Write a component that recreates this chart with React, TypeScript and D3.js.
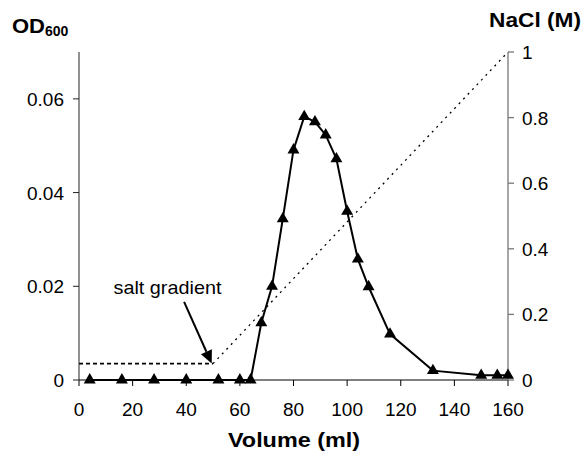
import React from 'react';
import * as d3 from 'd3';

// elution profile (OD600) vs volume
const volume = [4, 16, 28, 40, 52, 60, 64, 68, 72, 76, 80, 84, 88, 92, 96, 100, 104, 108, 116, 132, 150, 156, 160];
const od600 = [0, 0, 0, 0, 0, 0, 0, 0.0122, 0.0200, 0.0344, 0.0491, 0.0562, 0.0551, 0.0523, 0.0472, 0.0360, 0.0258, 0.0199, 0.0098, 0.0020, 0.0010, 0.0010, 0.0010];

// salt gradient (NaCl, M)
const saltVolume = [0, 50, 160];
const saltNaCl = [0.05, 0.05, 1];

const xTicks = [0, 20, 40, 60, 80, 100, 120, 140, 160];
const leftTicks = [0, 0.02, 0.04, 0.06];
const rightTicks = [0, 0.2, 0.4, 0.6, 0.8, 1];

const W = 585;
const H = 452;
const font = '"Liberation Sans", Arial, sans-serif';

export default function App() {
  const x = d3.scaleLinear().domain([0, 160]).range([79, 508]);
  const yL = d3.scaleLinear().domain([0, 0.07]).range([380, 52]);
  const yR = d3.scaleLinear().domain([0, 1]).range([380, 52]);

  const line = d3.line<number>().x((_, i) => x(volume[i])).y(d => yL(d));
  const tri = d3.symbol().type(d3.symbolTriangle).size(62)();

  const flat = `M${x(saltVolume[0])},${yR(saltNaCl[0])}L${x(saltVolume[1])},${yR(saltNaCl[1])}`;
  const slope = `M${x(saltVolume[1])},${yR(saltNaCl[1])}L${x(saltVolume[2])},${yR(saltNaCl[2])}`;

  // arrow annotation, in data coordinates
  const ax0 = x(39.2), ay0 = yR(0.238);
  const ax1 = x(49.5), ay1 = yR(0.05);
  const ang = Math.atan2(ay1 - ay0, ax1 - ax0);
  const hl = 13, hw = 6;
  const bx = ax1 - hl * Math.cos(ang), by = ay1 - hl * Math.sin(ang);
  const head = `M${ax1},${ay1}L${bx + hw * Math.sin(ang)},${by - hw * Math.cos(ang)}L${bx - hw * Math.sin(ang)},${by + hw * Math.cos(ang)}Z`;

  return (
    <div style={{ position: 'absolute', left: 0, top: 0 }}>
      <svg width={W} height={H} style={{ display: 'block', background: '#fff' }} fontFamily={font}>
        {/* salt gradient */}
        <path d={flat} stroke="#000" strokeWidth={1.6} strokeDasharray="4,3" fill="none" />
        <path d={slope} stroke="#000" strokeWidth={1.3} strokeDasharray="2,4.5" fill="none" />

        {/* axes */}
        <line x1={x(0)} x2={x(160)} y1={yL(0)} y2={yL(0)} stroke="#000" strokeWidth={1} />
        {xTicks.map(t => (
          <g key={t}>
            <line x1={x(t)} x2={x(t)} y1={yL(0)} y2={yL(0) + 6} stroke="#000" />
            <text x={x(t)} y={416} fontSize={19} textAnchor="middle">{t}</text>
          </g>
        ))}
        <line x1={x(0)} x2={x(0)} y1={yL(0.07)} y2={yL(0)} stroke="#222" strokeWidth={1} />
        {leftTicks.map(t => (
          <g key={t}>
            <line x1={x(0) - 6} x2={x(0)} y1={yL(t)} y2={yL(t)} stroke="#222" />
            <text x={64} y={yL(t) + 7} fontSize={19} textAnchor="end">{t === 0 ? '0' : t.toFixed(2)}</text>
          </g>
        ))}
        <line x1={x(160)} x2={x(160)} y1={yR(1)} y2={yR(0)} stroke="#777" strokeWidth={1.3} />
        {rightTicks.map(t => (
          <g key={t}>
            <line x1={x(160)} x2={x(160) + 6} y1={yR(t)} y2={yR(t)} stroke="#777" strokeWidth={1.3} />
            <text x={522} y={yR(t) + 7} fontSize={19}>{t === 0 || t === 1 ? String(t) : t.toFixed(1)}</text>
          </g>
        ))}

        {/* OD600 series */}
        <path d={line(od600) || ''} stroke="#000" strokeWidth={2} fill="none" />
        {od600.map((v, i) => (
          <path key={i} d={tri || ''} transform={`translate(${x(volume[i])},${yL(v)})`} fill="#000" />
        ))}

        {/* annotation */}
        <line x1={ax0} y1={ay0} x2={bx} y2={by} stroke="#000" strokeWidth={2} />
        <path d={head} fill="#000" />
        <text x={x(33)} y={yR(0.262)} fontSize={19} textAnchor="middle" textLength={108} lengthAdjust="spacingAndGlyphs">salt gradient</text>

        {/* axis titles */}
        <text x={12} y={33} fontSize={20} fontWeight="bold">
          <tspan textLength={33} lengthAdjust="spacingAndGlyphs">OD</tspan>
          <tspan fontSize={14} dy={3}>600</tspan>
        </text>
        <text x={489} y={27} fontSize={20} fontWeight="bold" textLength={92} lengthAdjust="spacingAndGlyphs">NaCl (M)</text>
        <text x={228} y={447} fontSize={20} fontWeight="bold" textLength={132} lengthAdjust="spacingAndGlyphs">Volume (ml)</text>
      </svg>
    </div>
  );
}
